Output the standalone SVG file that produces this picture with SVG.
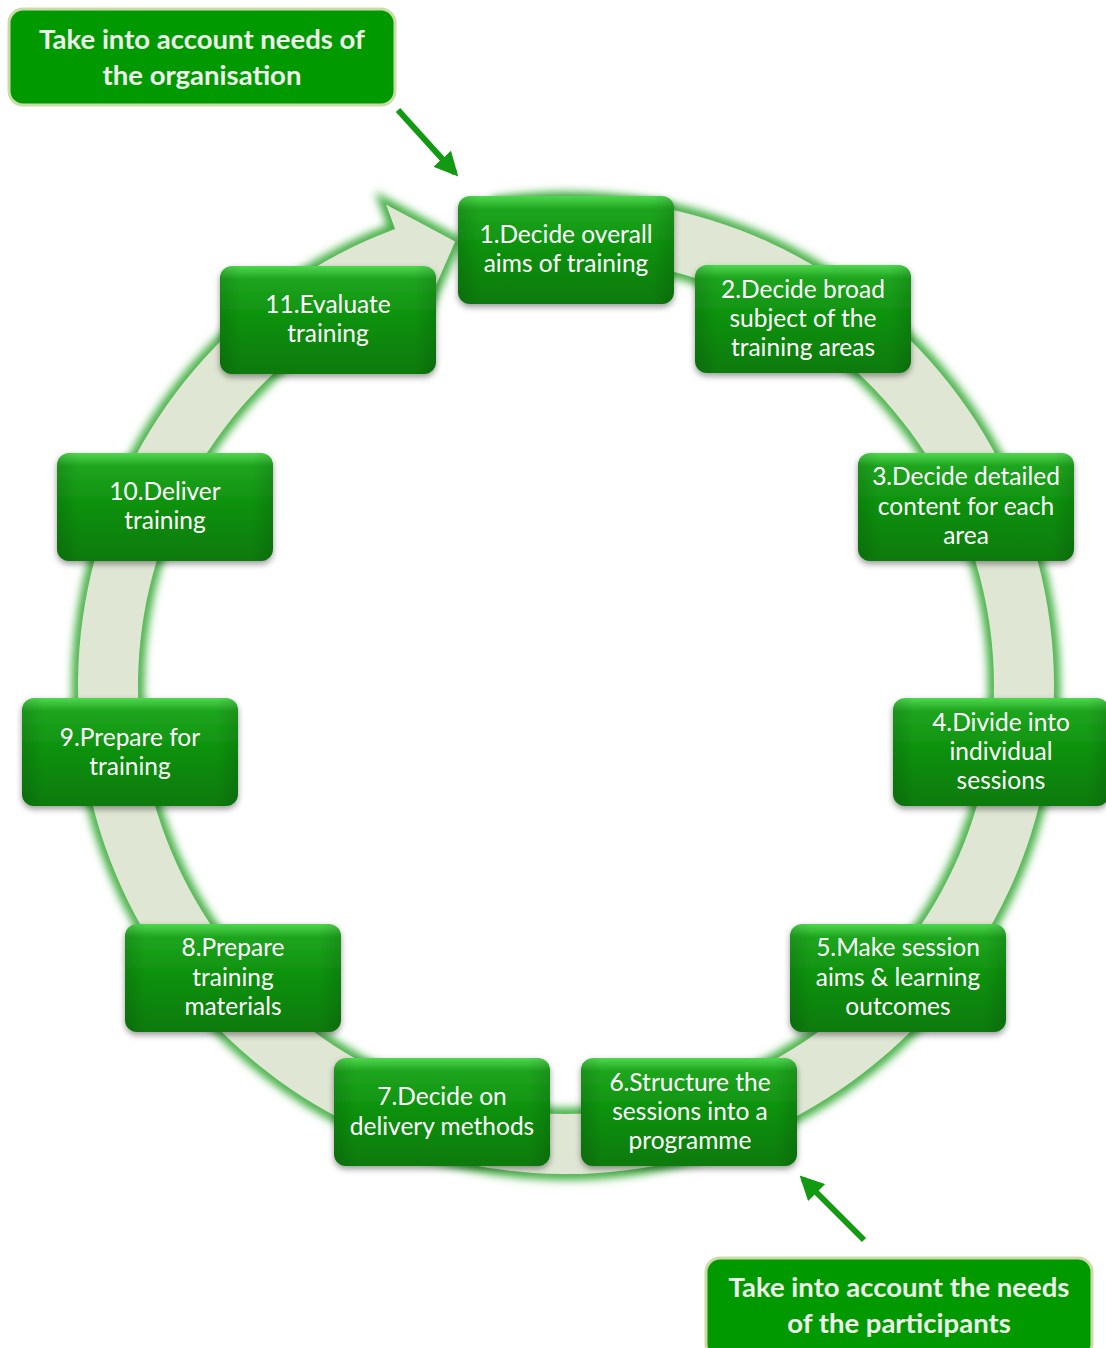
<svg xmlns="http://www.w3.org/2000/svg" width="1106" height="1348" viewBox="0 0 1106 1348">
<style>
.nt{font-family:Lato,"Liberation Sans",sans-serif;font-size:24.5px;fill:#ffffff;text-anchor:middle}
.ct{font-family:Lato,"Liberation Sans",sans-serif;font-size:27.5px;font-weight:bold;fill:#eef2ea;text-anchor:middle}
.node rect.b{fill:url(#ng);filter:url(#sh)}
.node rect.h{fill:url(#hl)}
.call{fill:#009a00;stroke:#c9dba6;stroke-width:3}
.conn{stroke:#139a13;stroke-width:6;fill:none}
</style>
<defs>
<linearGradient id="ng" x1="0" y1="0" x2="0" y2="1">
<stop offset="0" stop-color="#4fd84f"/>
<stop offset="0.12" stop-color="#1fa51f"/>
<stop offset="0.5" stop-color="#0d900d"/>
<stop offset="1" stop-color="#087a08"/>
</linearGradient>
<linearGradient id="hl" x1="0" y1="0" x2="1" y2="0">
<stop offset="0" stop-color="#000" stop-opacity="0.12"/>
<stop offset="0.1" stop-color="#000" stop-opacity="0"/>
<stop offset="0.9" stop-color="#000" stop-opacity="0"/>
<stop offset="1" stop-color="#000" stop-opacity="0.12"/>
</linearGradient>
<filter id="sh" x="-10%" y="-10%" width="120%" height="130%">
<feDropShadow dx="0" dy="3" stdDeviation="3" flood-color="#000" flood-opacity="0.4"/>
</filter>
<filter id="glow" x="-10%" y="-10%" width="120%" height="120%">
<feGaussianBlur stdDeviation="4"/>
</filter>
<marker id="ah" viewBox="0 0 10 10" refX="8" refY="5" markerWidth="4" markerHeight="4" orient="auto" markerUnits="strokeWidth">
<path d="M0,0 L10,5 L0,10 Z" fill="#139a13"/>
</marker>
</defs>
<rect width="1106" height="1348" fill="#ffffff"/>
<g id="ring">
<path d="M498.08,202.75 A488,488 0 1 1 395.10,228.90 L385.99,204.55 L455.20,241.60 L425.22,309.46 L416.11,285.10 A428,428 0 1 0 506.43,262.16 Z" fill="none" stroke="#3fae3f" stroke-width="12" filter="url(#glow)"/>
<path d="M498.08,202.75 A488,488 0 1 1 395.10,228.90 L385.99,204.55 L455.20,241.60 L425.22,309.46 L416.11,285.10 A428,428 0 1 0 506.43,262.16 Z" fill="#dfe7d4"/>
</g>
<g id="connectors">
<line class="conn" x1="398" y1="110" x2="455" y2="173" marker-end="url(#ah)"/>
<line class="conn" x1="864" y1="1240" x2="803" y2="1179" marker-end="url(#ah)"/>
</g>
<g id="callout-org">
<rect class="call" x="9" y="9" width="386" height="96" rx="14"/>
<text class="ct" x="202" y="49">Take into account needs of</text>
<text class="ct" x="202" y="85">the organisation</text>
</g>
<g id="callout-part">
<rect class="call" x="706" y="1258" width="386" height="100" rx="14"/>
<text class="ct" x="899" y="1297">Take into account the needs</text>
<text class="ct" x="899" y="1333">of the participants</text>
</g>
<g id="n1" class="node">
<rect class="b" x="458" y="196" width="216" height="108" rx="12"/>
<rect class="h" x="458" y="196" width="216" height="108" rx="12"/>
<text class="nt" x="566" y="243">1.Decide overall</text>
<text class="nt" x="566" y="272">aims of training</text>
</g>
<g id="n2" class="node">
<rect class="b" x="695" y="265" width="216" height="108" rx="12"/>
<rect class="h" x="695" y="265" width="216" height="108" rx="12"/>
<text class="nt" x="803" y="298">2.Decide broad</text>
<text class="nt" x="803" y="327">subject of the</text>
<text class="nt" x="803" y="356">training areas</text>
</g>
<g id="n3" class="node">
<rect class="b" x="858" y="453" width="216" height="108" rx="12"/>
<rect class="h" x="858" y="453" width="216" height="108" rx="12"/>
<text class="nt" x="966" y="485">3.Decide detailed</text>
<text class="nt" x="966" y="515">content for each</text>
<text class="nt" x="966" y="544">area</text>
</g>
<g id="n4" class="node">
<rect class="b" x="893" y="698" width="216" height="108" rx="12"/>
<rect class="h" x="893" y="698" width="216" height="108" rx="12"/>
<text class="nt" x="1001" y="731">4.Divide into</text>
<text class="nt" x="1001" y="760">individual</text>
<text class="nt" x="1001" y="789">sessions</text>
</g>
<g id="n5" class="node">
<rect class="b" x="790" y="924" width="216" height="108" rx="12"/>
<rect class="h" x="790" y="924" width="216" height="108" rx="12"/>
<text class="nt" x="898" y="956">5.Make session</text>
<text class="nt" x="898" y="986">aims &amp; learning</text>
<text class="nt" x="898" y="1015">outcomes</text>
</g>
<g id="n6" class="node">
<rect class="b" x="581" y="1058" width="216" height="108" rx="12"/>
<rect class="h" x="581" y="1058" width="216" height="108" rx="12"/>
<text class="nt" x="690" y="1091">6.Structure the</text>
<text class="nt" x="690" y="1120">sessions into a</text>
<text class="nt" x="690" y="1149">programme</text>
</g>
<g id="n7" class="node">
<rect class="b" x="334" y="1058" width="216" height="108" rx="12"/>
<rect class="h" x="334" y="1058" width="216" height="108" rx="12"/>
<text class="nt" x="442" y="1105">7.Decide on</text>
<text class="nt" x="442" y="1135">delivery methods</text>
</g>
<g id="n8" class="node">
<rect class="b" x="125" y="924" width="216" height="108" rx="12"/>
<rect class="h" x="125" y="924" width="216" height="108" rx="12"/>
<text class="nt" x="233" y="956">8.Prepare</text>
<text class="nt" x="233" y="986">training</text>
<text class="nt" x="233" y="1015">materials</text>
</g>
<g id="n9" class="node">
<rect class="b" x="22" y="698" width="216" height="108" rx="12"/>
<rect class="h" x="22" y="698" width="216" height="108" rx="12"/>
<text class="nt" x="130" y="746">9.Prepare for</text>
<text class="nt" x="130" y="775">training</text>
</g>
<g id="n10" class="node">
<rect class="b" x="57" y="453" width="216" height="108" rx="12"/>
<rect class="h" x="57" y="453" width="216" height="108" rx="12"/>
<text class="nt" x="165" y="500">10.Deliver</text>
<text class="nt" x="165" y="529">training</text>
</g>
<g id="n11" class="node">
<rect class="b" x="220" y="266" width="216" height="108" rx="12"/>
<rect class="h" x="220" y="266" width="216" height="108" rx="12"/>
<text class="nt" x="328" y="313">11.Evaluate</text>
<text class="nt" x="328" y="342">training</text>
</g>
</svg>
